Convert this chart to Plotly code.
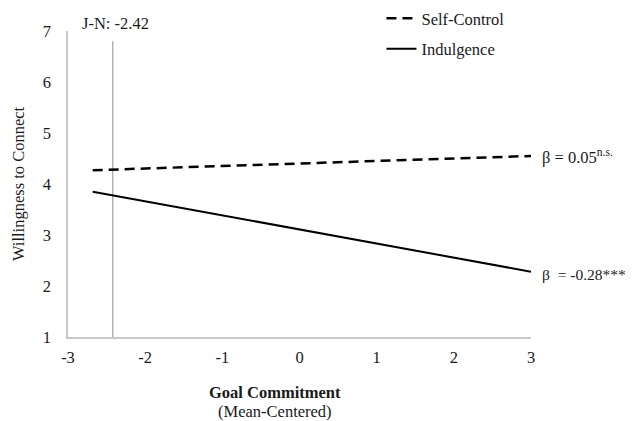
import plotly.graph_objects as go

# Data
goal_commitment = [-2.68, 3.0]
self_control = [4.27, 4.55]
indulgence = [3.85, 2.28]
jn_point = -2.42
jn_top = 6.8
x_ticks = [-3, -2, -1, 0, 1, 2, 3]
x_tick_labels = ["-3", "-2", "-1", "0", "1", "2", "3"]
y_ticks = [1, 2, 3, 4, 5, 6, 7]
beta_self = "β = 0.05<sup>n.s.</sup>"
beta_indul = "β  = -0.28***"

FONT = "Liberation Serif, Times New Roman, serif"
TXT = "#1a1a1a"
FS = 16.5

# page body has an 8px default margin, so the figure is drawn 8px in
W, H = 625, 413

fig = go.Figure()
fig.add_trace(go.Scatter(x=goal_commitment, y=self_control, mode="lines",
                         name="Self-Control", legendgroup="a",
                         line=dict(color="black", width=2.5, dash="10px,6px")))
fig.add_trace(go.Scatter(x=goal_commitment, y=indulgence, mode="lines",
                         name="Indulgence", legendgroup="b",
                         line=dict(color="black", width=2)))

fig.add_shape(type="line", x0=jn_point, x1=jn_point, y0=y_ticks[0], y1=jn_top,
              xref="x", yref="y", line=dict(color="#a0a0a0", width=1.2), layer="below")

fig.add_annotation(x=jn_point, y=7, xref="x", yref="y", text="J-N: " + str(jn_point),
                   showarrow=False, yshift=8, xshift=3,
                   font=dict(family=FONT, size=FS, color=TXT))
fig.add_annotation(x=goal_commitment[-1], y=self_control[-1], xref="x", yref="y",
                   text=beta_self, showarrow=False, xanchor="left", xshift=9, yshift=-1,
                   font=dict(family=FONT, size=FS, color=TXT))
fig.add_annotation(x=goal_commitment[-1], y=indulgence[-1], xref="x", yref="y",
                   text=beta_indul, showarrow=False, xanchor="left", xshift=9, yshift=-3,
                   font=dict(family=FONT, size=15.5, color=TXT))
fig.add_annotation(x=0.447, y=-0.18, xref="paper", yref="paper", yanchor="middle",
                   text="<b>Goal Commitment</b>", showarrow=False,
                   font=dict(family=FONT, size=16.5, color=TXT))
fig.add_annotation(x=0.447, y=-0.245, xref="paper", yref="paper", yanchor="middle",
                   text="(Mean-Centered)", showarrow=False,
                   font=dict(family=FONT, size=FS, color=TXT))

fig.update_layout(
    width=W, height=H,
    margin=dict(l=60, r=102, t=23, b=84, autoexpand=False),
    plot_bgcolor="white", paper_bgcolor="white",
    font=dict(family=FONT, size=FS, color=TXT),
    showlegend=True,
    legend=dict(x=0.677, y=1.098, xref="paper", yref="paper",
                xanchor="left", yanchor="top",
                bgcolor="rgba(0,0,0,0)", font=dict(family=FONT, size=FS, color=TXT),
                tracegroupgap=6, itemwidth=30),
    xaxis=dict(range=[-3, 3], tickvals=x_ticks, ticktext=x_tick_labels,
               showgrid=False, zeroline=False, automargin=False,
               showline=True, linecolor="#c8c8c8", linewidth=1.5, ticks="",
               ticklabelstandoff=4, fixedrange=True),
    yaxis=dict(range=[1, 7], tickvals=y_ticks, showgrid=False, zeroline=False,
               automargin=False,
               showline=True, linecolor="#c8c8c8", linewidth=1.5, ticks="",
               ticklabelstandoff=12,
               title=dict(text="Willingness to Connect", standoff=14,
                          font=dict(family=FONT, size=FS, color=TXT))),
)

fig.write_html("out.html")
